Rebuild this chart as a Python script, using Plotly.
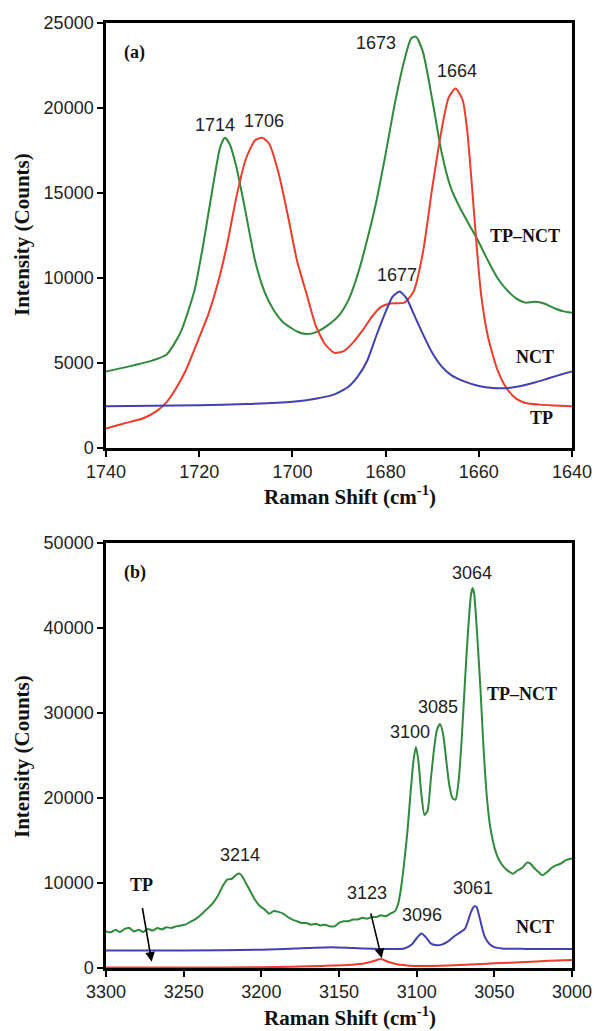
import plotly.graph_objects as go

# ---------------- Panel (a) data ----------------
a_green_x = [1740, 1735, 1730, 1727, 1724, 1721, 1719, 1717, 1715.5, 1714.5, 1713.5, 1712, 1710, 1708, 1706, 1704,
             1702, 1699, 1697, 1695, 1692, 1690, 1688, 1686, 1684, 1682, 1680, 1678, 1676, 1674.5, 1673.5, 1672,
             1670, 1668, 1666, 1664, 1662, 1660, 1658, 1656, 1654, 1652, 1650, 1648, 1646, 1644, 1642, 1640]
a_green_y = [4500, 4800, 5150, 5500, 6800, 9300, 12200, 15500, 17700, 18250, 17900, 16500, 13800, 11000, 9200, 8100,
             7400, 6850, 6700, 6800, 7300, 7800, 8700, 10200, 12200, 14500, 17300, 20300, 22800, 24100, 24200, 23300,
             20500, 17400, 15300, 14100, 13100, 12100, 11000, 10000, 9300, 8800, 8550, 8600, 8500, 8250, 8050, 7950]

a_red_x = [1740, 1736, 1732, 1729, 1727, 1725, 1723, 1720, 1718, 1716, 1714, 1712, 1710, 1708, 1706.5, 1705, 1703,
           1701, 1699, 1697, 1695, 1693, 1691, 1689, 1687, 1685, 1683, 1681, 1679, 1676, 1674, 1672, 1670, 1668,
           1666.5, 1665, 1663.5, 1662.5, 1661.5, 1660.5, 1659.5, 1658, 1656, 1654, 1652, 1650, 1647, 1644, 1640]
a_red_y = [1150, 1450, 1750, 2200, 2700, 3500, 4500, 6500, 7900, 9700, 12000, 14800, 17000, 18100, 18250, 17900, 16200,
           13700, 11000, 9100, 7200, 6100, 5600, 5700, 6200, 6900, 7700, 8300, 8500, 8550, 9200, 11500, 15300, 18700,
           20600, 21150, 20500, 18700, 15500, 12000, 9000, 6500, 4600, 3500, 2900, 2650, 2550, 2500, 2450]

a_blue_x = [1740, 1730, 1720, 1710, 1700, 1695, 1691, 1688, 1686, 1684, 1682, 1680, 1678.5, 1677, 1675.5, 1674, 1672,
            1670, 1668, 1666, 1663, 1660, 1657, 1654, 1651, 1648, 1645, 1642, 1640]
a_blue_y = [2450, 2480, 2520, 2580, 2720, 2900, 3150, 3600, 4200, 5100, 6600, 8000, 8900, 9200, 8800, 7900, 6700,
            5600, 4800, 4300, 3900, 3650, 3530, 3520, 3650, 3850, 4100, 4350, 4500]

# ---------------- Panel (b) data ----------------
b_green_x = [3300, 3297, 3294, 3291, 3288, 3285, 3282, 3279, 3276, 3273, 3270, 3267, 3264, 3261, 3258, 3255, 3252,
             3249, 3246, 3243, 3240, 3237, 3234, 3231, 3228, 3225, 3222, 3219, 3216, 3214, 3212, 3210, 3207, 3204,
             3201, 3198, 3195, 3192, 3189, 3186, 3183, 3180, 3177, 3174, 3171, 3168, 3165, 3162, 3159, 3156, 3153,
             3150, 3147, 3144, 3141, 3138, 3135, 3132, 3129, 3126, 3123, 3120, 3117, 3114, 3112, 3110, 3108, 3106,
             3104, 3102, 3100.5, 3099, 3097, 3095, 3093, 3091, 3089, 3087, 3085, 3083, 3081, 3079, 3077, 3075, 3073,
             3071, 3069, 3067, 3065, 3064, 3063, 3061, 3059, 3057, 3055, 3053, 3051, 3049, 3047, 3044, 3041, 3038,
             3035, 3032, 3029, 3027, 3024, 3021, 3019, 3016, 3013, 3010, 3007, 3004, 3000]
b_green_y = [4300, 4200, 4500, 4250, 4600, 4700, 4300, 4500, 4250, 4600, 4400, 4700, 4550, 4800, 4700, 4900, 5000,
             5100, 5400, 5700, 6100, 6600, 7100, 7700, 8500, 9600, 10400, 10500, 11000, 11100, 10700, 10000, 9000, 8000,
             7300, 6900, 6400, 6700, 6600, 6400, 6000, 5700, 5500, 5300, 5300, 5100, 5200, 5000, 5100, 4900, 4900,
             5300, 5500, 5500, 5700, 5700, 5900, 5800, 6000, 6000, 6200, 6100, 6400, 6700, 7500, 9500, 12500, 16000,
             20500, 24500, 26000, 24500, 20500, 18000, 18500, 22000, 25500, 28000, 28700, 27500, 24500, 21500, 20000, 19800, 22000,
             27000, 33500, 39500, 44000, 44700, 44000, 39000, 33000, 26000, 20500, 17000, 15000, 13600, 12700, 11900, 11400, 11100,
             11500, 11800, 12400, 12300, 11700, 11200, 10900, 11300, 11800, 12100, 12300, 12700, 12900]

b_blue_x = [3300, 3250, 3200, 3170, 3155, 3140, 3120, 3108, 3103, 3100, 3097, 3094, 3091, 3088, 3084, 3080, 3076,
            3072, 3069, 3067, 3065, 3063, 3061.5, 3060, 3058, 3056, 3053, 3050, 3045, 3030, 3000]
b_blue_y = [2050, 2050, 2150, 2350, 2450, 2350, 2250, 2300, 2800, 3500, 4050, 3600, 2900, 2700, 2750, 3100, 3700,
            4200, 4600, 5500, 6600, 7250, 7200, 6300, 4800, 3600, 2800, 2450, 2300, 2250, 2250]

b_red_x = [3300, 3250, 3200, 3180, 3160, 3145, 3135, 3128, 3123, 3118, 3112, 3105, 3095, 3080, 3065, 3050, 3030, 3015, 3000]
b_red_y = [50, 50, 80, 150, 250, 350, 500, 800, 1050, 700, 400, 280, 250, 300, 400, 550, 700, 850, 950]

a_xticks = [1740, 1720, 1700, 1680, 1660, 1640]
a_yticks = [0, 5000, 10000, 15000, 20000, 25000]
b_xticks = [3300, 3250, 3200, 3150, 3100, 3050, 3000]
b_yticks = [0, 10000, 20000, 30000, 40000, 50000]

GREEN = "#2f8a3c"
RED = "#ee3b2b"
BLUE = "#4040b0"

fig = go.Figure()

def add(x, y, color, xa, ya, name):
    fig.add_trace(go.Scatter(x=x, y=y, mode="lines", name=name, xaxis=xa, yaxis=ya,
                             line=dict(color=color, width=2, shape="spline", smoothing=0.6),
                             showlegend=False, hoverinfo="skip"))

add(a_green_x, a_green_y, GREEN, "x", "y", "TP–NCT")
add(a_red_x, a_red_y, RED, "x", "y", "NCT")
add(a_blue_x, a_blue_y, BLUE, "x", "y", "TP")
add(b_green_x, b_green_y, GREEN, "x2", "y2", "TP–NCT")
add(b_blue_x, b_blue_y, BLUE, "x2", "y2", "NCT")
add(b_red_x, b_red_y, RED, "x2", "y2", "TP")

tickfont = dict(family="Liberation Sans, Arial", size=18, color="#222222")
common_axis = dict(showline=True, linecolor="black", linewidth=2.5, mirror=True, ticks="outside",
                   ticklen=6, tickwidth=2, tickcolor="black", showgrid=False, zeroline=False,
                   tickfont=tickfont, automargin=False)

def tt(vals):
    return [str(v) for v in vals]

fig.update_layout(
    width=594, height=1031, margin=dict(l=0, r=0, t=0, b=0, pad=0, autoexpand=False),
    paper_bgcolor="white", plot_bgcolor="white", showlegend=False,
    xaxis=dict(domain=[0.1785, 0.963], anchor="y", range=[1740, 1640], tickvals=a_xticks,
               ticktext=tt(a_xticks), **common_axis),
    yaxis=dict(domain=[0.5655, 0.9777], anchor="x", range=[0, 25000], tickvals=a_yticks,
               ticktext=tt(a_yticks), **common_axis),
    xaxis2=dict(domain=[0.1785, 0.963], anchor="y2", range=[3300, 3000], tickvals=b_xticks,
                ticktext=tt(b_xticks), **common_axis),
    yaxis2=dict(domain=[0.0611, 0.4733], anchor="x2", range=[0, 50000], tickvals=b_yticks,
                ticktext=tt(b_yticks), **common_axis),
)

numfont = dict(family="Liberation Sans, Arial", size=18, color="#222222")
boldserif = dict(family="Liberation Serif, Times New Roman", size=18, color="#111111", weight="bold")
ann = []

def txt(x, y, t, xr, yr, font):
    ann.append(dict(x=x, y=y, xref=xr, yref=yr, text=t, showarrow=False, font=font,
                    xanchor="center", yanchor="middle"))

# panel (a) labels
txt(1733.8, 23290, "(a)", "x", "y", boldserif)
txt(1716.6, 19000, "1714", "x", "y", numfont)
txt(1706.1, 19230, "1706", "x", "y", numfont)
txt(1682.1, 23820, "1673", "x", "y", numfont)
txt(1664.7, 22180, "1664", "x", "y", numfont)
txt(1677.6, 10180, "1677", "x", "y", numfont)
txt(1650.1, 12470, "TP–NCT", "x", "y", boldserif)
txt(1647.9, 5370, "NCT", "x", "y", boldserif)
txt(1646.5, 1765, "TP", "x", "y", boldserif)

# panel (b) labels
txt(3281.3, 46590, "(b)", "x2", "y2", boldserif)
txt(3213.7, 13290, "3214", "x2", "y2", numfont)
txt(3277.0, 9760, "TP", "x2", "y2", boldserif)
txt(3132.2, 8790, "3123", "x2", "y2", numfont)
txt(3104.3, 27730, "3100", "x2", "y2", numfont)
txt(3086.1, 30740, "3085", "x2", "y2", numfont)
txt(3064.6, 46440, "3064", "x2", "y2", numfont)
txt(3032.4, 32240, "TP–NCT", "x2", "y2", boldserif)
txt(3096.4, 6240, "3096", "x2", "y2", numfont)
txt(3063.5, 9380, "3061", "x2", "y2", numfont)
txt(3023.8, 4860, "NCT", "x2", "y2", boldserif)

# arrows
for (hx, hy, tx, ty) in [(3270.6, 740, 3277.7, 8235), (3122.5, 1140, 3131.1, 7610)]:
    ann.append(dict(x=hx, y=hy, xref="x2", yref="y2", ax=tx, ay=ty, axref="x2", ayref="y2",
                    text=" ", showarrow=True, arrowhead=2, arrowsize=1.2, arrowwidth=1.6, arrowcolor="black"))

# axis titles
titlefont = dict(family="Liberation Serif, Times New Roman", size=21, color="#111111", weight="bold")
for yc in [1 - 235/1031, 1 - 757/1031]:
    ann.append(dict(x=22/594, y=yc, xref="paper", yref="paper", text="Intensity (Counts)", textangle=-90,
                    showarrow=False, font=titlefont, xanchor="center", yanchor="middle"))
for yc in [1 - 495/1031, 1 - 1016/1031]:
    ann.append(dict(x=350/594, y=yc, xref="paper", yref="paper", text="Raman Shift (cm<sup>-1</sup>)",
                    showarrow=False, font=titlefont, xanchor="center", yanchor="middle"))

fig.update_layout(annotations=ann)
fig.write_html("out.html")
